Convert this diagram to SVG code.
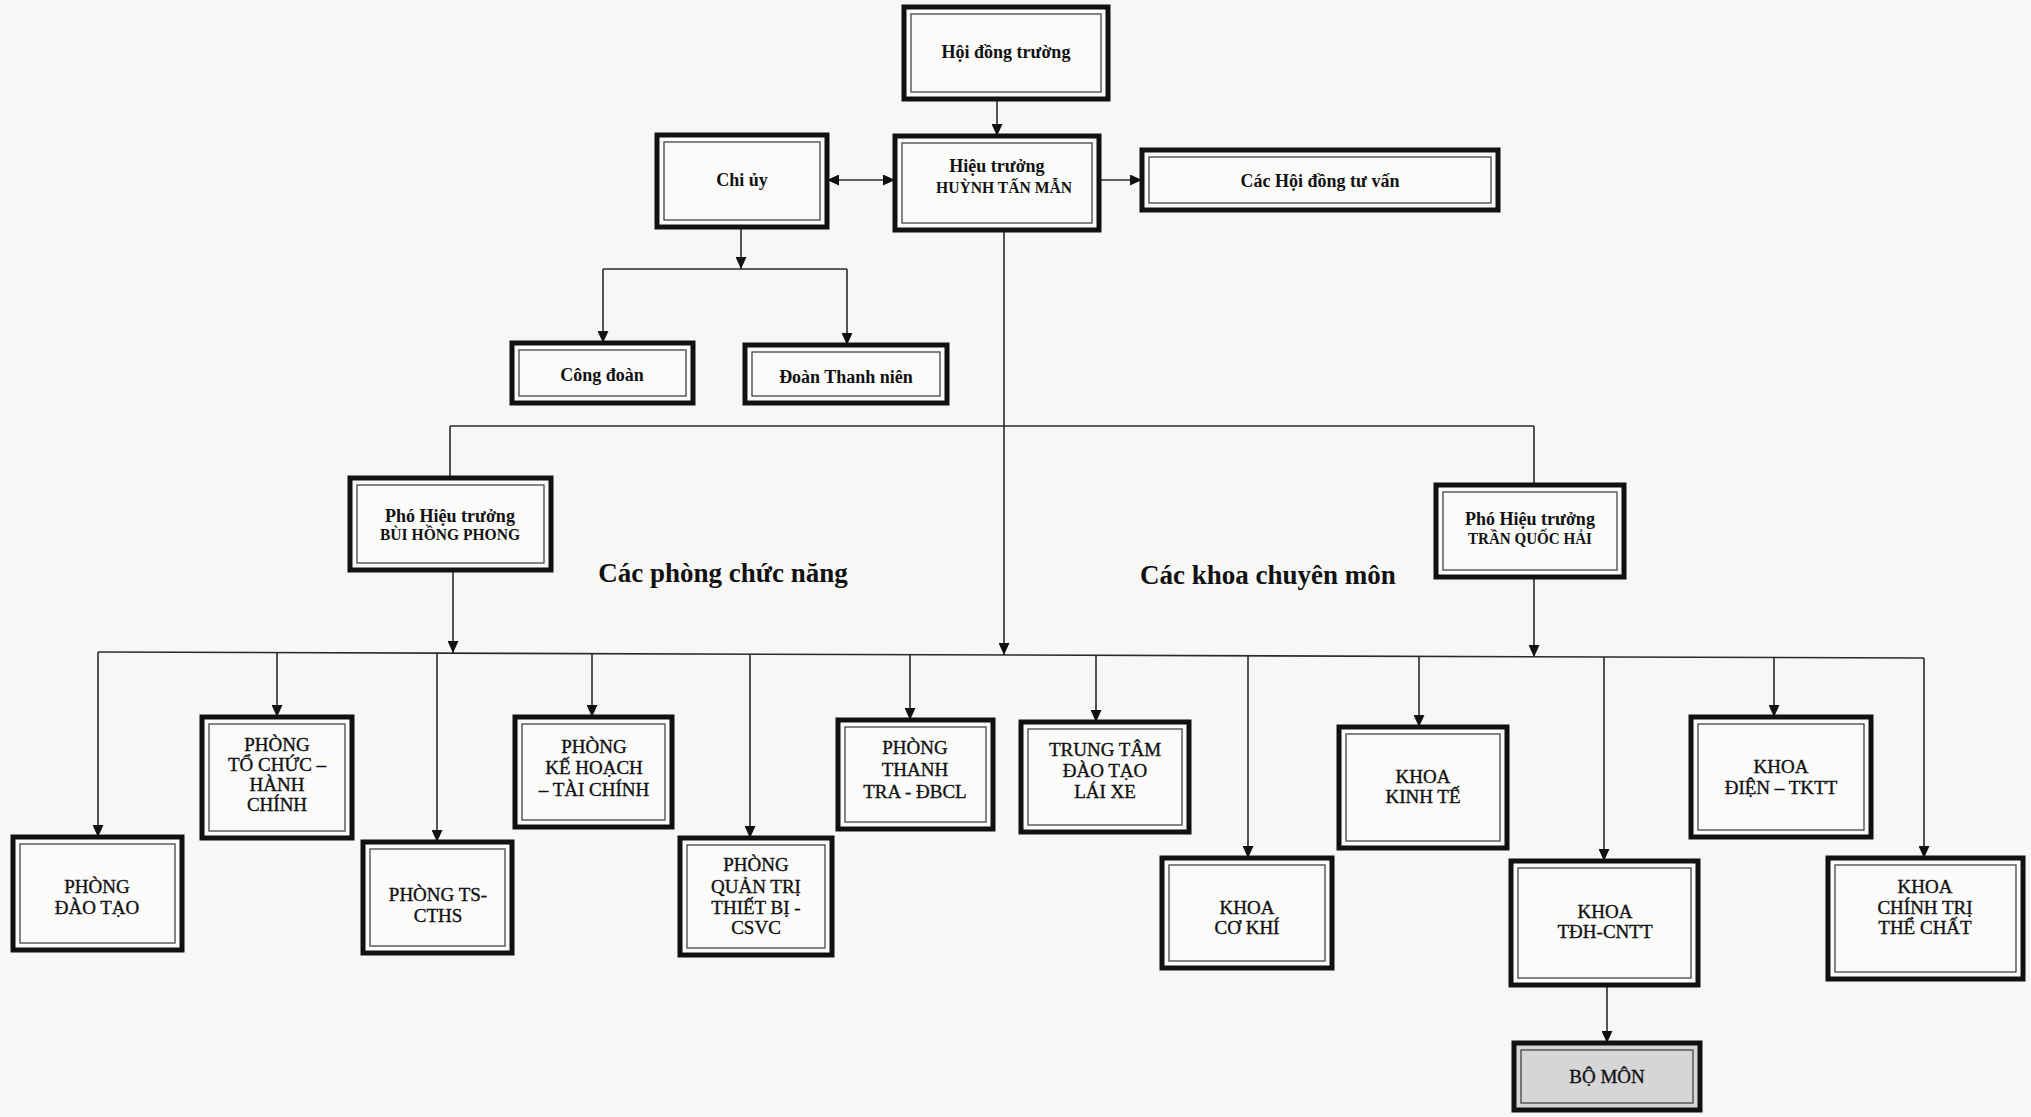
<svg xmlns="http://www.w3.org/2000/svg" width="2031" height="1117" viewBox="0 0 2031 1117">
<defs>
<marker id="arr" markerUnits="userSpaceOnUse" markerWidth="12" markerHeight="11" refX="12" refY="5.5" orient="auto-start-reverse">
<path d="M0,0 L12,5.5 L0,11 z" fill="#111"/>
</marker>
<style>
.bg{fill:#f7f7f5}
.outer{fill:#fbfbfa;stroke:#111;stroke-width:5}
.inner{fill:none;stroke:#444;stroke-width:1.3}
.grey .outer{fill:#d6d6d6}
.conn line,.conn polyline{stroke:#2a2a2a;stroke-width:1.6;fill:none}
.arr{marker-end:url(#arr)}
text{font-family:"Liberation Serif","Times New Roman",serif;fill:#111;text-anchor:middle}
.t{font-size:18px;font-weight:bold}
.n{font-size:17px;font-weight:bold}
.b{font-size:19px;stroke:#111;stroke-width:0.35}
.h{font-size:27px;font-weight:bold}
</style>
</defs>
<rect class="bg" x="0" y="0" width="2031" height="1117"/>

<g id="connectors" class="conn">
<line class="arr" x1="997" y1="99" x2="997" y2="136"/>
<line x1="827" y1="180" x2="895" y2="180" marker-start="url(#arr)" marker-end="url(#arr)"/>
<line class="arr" x1="1099" y1="180" x2="1142" y2="180"/>
<line class="arr" x1="741" y1="227" x2="741" y2="269"/>
<line x1="603" y1="269" x2="847" y2="269"/>
<line class="arr" x1="603" y1="269" x2="603" y2="343"/>
<line class="arr" x1="847" y1="269" x2="847" y2="345"/>
<line class="arr" x1="1004" y1="230" x2="1004" y2="655"/>
<line x1="450" y1="426" x2="1534" y2="426"/>
<line x1="450" y1="426" x2="450" y2="478"/>
<line x1="1534" y1="426" x2="1534" y2="485"/>
<line class="arr" x1="453" y1="570" x2="453" y2="653"/>
<line class="arr" x1="1534" y1="577" x2="1534" y2="657"/>
<line x1="98" y1="652" x2="1924" y2="658"/>
<line class="arr" x1="98" y1="652" x2="98" y2="837"/>
<line class="arr" x1="277" y1="653" x2="277" y2="717"/>
<line class="arr" x1="437" y1="653" x2="437" y2="842"/>
<line class="arr" x1="592" y1="654" x2="592" y2="717"/>
<line class="arr" x1="750" y1="654" x2="750" y2="838"/>
<line class="arr" x1="910" y1="655" x2="910" y2="720"/>
<line class="arr" x1="1096" y1="655" x2="1096" y2="722"/>
<line class="arr" x1="1248" y1="656" x2="1248" y2="858"/>
<line class="arr" x1="1419" y1="656" x2="1419" y2="727"/>
<line class="arr" x1="1604" y1="657" x2="1604" y2="861"/>
<line class="arr" x1="1774" y1="657" x2="1774" y2="717"/>
<line class="arr" x1="1924" y1="658" x2="1924" y2="858"/>
<line class="arr" x1="1607" y1="985" x2="1607" y2="1043"/>
</g>

<g id="hoi_dong_truong"><rect class="outer" x="904" y="7" width="204" height="92"/><rect class="inner" x="911" y="14" width="190" height="78"/><text class="t" x="1006" y="58">Hội đồng trường</text></g>
<g id="hieu_truong"><rect class="outer" x="895" y="136" width="204" height="94"/><rect class="inner" x="902" y="143" width="190" height="80"/><text class="t" x="997" y="172">Hiệu trưởng</text><text class="n" x="1004" y="193" textLength="136" lengthAdjust="spacingAndGlyphs">HUỲNH TẤN MẪN</text></g>
<g id="chi_uy"><rect class="outer" x="657" y="135" width="170" height="92"/><rect class="inner" x="664" y="142" width="156" height="78"/><text class="t" x="742" y="186">Chi ủy</text></g>
<g id="hoi_dong_tu_van"><rect class="outer" x="1142" y="150" width="356" height="60"/><rect class="inner" x="1149" y="157" width="342" height="46"/><text class="t" x="1320" y="187">Các Hội đồng tư vấn</text></g>
<g id="cong_doan"><rect class="outer" x="512" y="343" width="181" height="60"/><rect class="inner" x="519" y="350" width="167" height="46"/><text class="t" x="602" y="381">Công đoàn</text></g>
<g id="doan_thanh_nien"><rect class="outer" x="745" y="345" width="202" height="58"/><rect class="inner" x="752" y="352" width="188" height="44"/><text class="t" x="846" y="383">Đoàn Thanh niên</text></g>
<g id="pho_hieu_truong_1"><rect class="outer" x="350" y="478" width="201" height="92"/><rect class="inner" x="357" y="485" width="187" height="78"/><text class="t" x="450" y="522">Phó Hiệu trưởng</text><text class="n" x="450" y="540" textLength="140" lengthAdjust="spacingAndGlyphs">BÙI HỒNG PHONG</text></g>
<g id="pho_hieu_truong_2"><rect class="outer" x="1436" y="485" width="188" height="92"/><rect class="inner" x="1443" y="492" width="174" height="78"/><text class="t" x="1530" y="525">Phó Hiệu trưởng</text><text class="n" x="1530" y="544" textLength="124" lengthAdjust="spacingAndGlyphs">TRẦN QUỐC HẢI</text></g>

<text class="h" x="723" y="582">Các phòng chức năng</text>
<text class="h" x="1268" y="584">Các khoa chuyên môn</text>

<g id="phong_dao_tao"><rect class="outer" x="13" y="837" width="169" height="113"/><rect class="inner" x="20" y="844" width="155" height="99"/><text class="b" x="97" y="893">PHÒNG</text><text class="b" x="97" y="914">ĐÀO TẠO</text></g>
<g id="phong_to_chuc"><rect class="outer" x="202" y="717" width="150" height="121"/><rect class="inner" x="209" y="724" width="136" height="107"/><text class="b" x="277" y="751">PHÒNG</text><text class="b" x="277" y="771">TỔ CHỨC –</text><text class="b" x="277" y="791">HÀNH</text><text class="b" x="277" y="811">CHÍNH</text></g>
<g id="phong_ts_cths"><rect class="outer" x="363" y="842" width="149" height="111"/><rect class="inner" x="370" y="849" width="135" height="97"/><text class="b" x="438" y="901">PHÒNG TS-</text><text class="b" x="438" y="922">CTHS</text></g>
<g id="phong_ke_hoach"><rect class="outer" x="515" y="717" width="157" height="110"/><rect class="inner" x="522" y="724" width="143" height="96"/><text class="b" x="594" y="753">PHÒNG</text><text class="b" x="594" y="774">KẾ HOẠCH</text><text class="b" x="594" y="796">– TÀI CHÍNH</text></g>
<g id="phong_quan_tri"><rect class="outer" x="680" y="838" width="152" height="117"/><rect class="inner" x="687" y="845" width="138" height="103"/><text class="b" x="756" y="871">PHÒNG</text><text class="b" x="756" y="893">QUẢN TRỊ</text><text class="b" x="756" y="914">THIẾT BỊ -</text><text class="b" x="756" y="934">CSVC</text></g>
<g id="phong_thanh_tra"><rect class="outer" x="838" y="720" width="155" height="109"/><rect class="inner" x="845" y="727" width="141" height="95"/><text class="b" x="915" y="754">PHÒNG</text><text class="b" x="915" y="776">THANH</text><text class="b" x="915" y="798">TRA - ĐBCL</text></g>
<g id="trung_tam_lai_xe"><rect class="outer" x="1021" y="722" width="168" height="110"/><rect class="inner" x="1028" y="729" width="154" height="96"/><text class="b" x="1105" y="756">TRUNG TÂM</text><text class="b" x="1105" y="777">ĐÀO TẠO</text><text class="b" x="1105" y="798">LÁI XE</text></g>
<g id="khoa_co_khi"><rect class="outer" x="1162" y="858" width="170" height="110"/><rect class="inner" x="1169" y="865" width="156" height="96"/><text class="b" x="1247" y="914">KHOA</text><text class="b" x="1247" y="934">CƠ KHÍ</text></g>
<g id="khoa_kinh_te"><rect class="outer" x="1339" y="727" width="168" height="121"/><rect class="inner" x="1346" y="734" width="154" height="107"/><text class="b" x="1423" y="783">KHOA</text><text class="b" x="1423" y="803">KINH TẾ</text></g>
<g id="khoa_tdh_cntt"><rect class="outer" x="1511" y="861" width="187" height="124"/><rect class="inner" x="1518" y="868" width="173" height="110"/><text class="b" x="1605" y="918">KHOA</text><text class="b" x="1605" y="938">TĐH-CNTT</text></g>
<g id="khoa_dien"><rect class="outer" x="1691" y="717" width="180" height="120"/><rect class="inner" x="1698" y="724" width="166" height="106"/><text class="b" x="1781" y="773">KHOA</text><text class="b" x="1781" y="794">ĐIỆN – TKTT</text></g>
<g id="khoa_chinh_tri"><rect class="outer" x="1828" y="858" width="195" height="121"/><rect class="inner" x="1835" y="865" width="181" height="107"/><text class="b" x="1925" y="893">KHOA</text><text class="b" x="1925" y="914">CHÍNH TRỊ</text><text class="b" x="1925" y="934">THỂ CHẤT</text></g>
<g id="bo_mon" class="grey"><rect class="outer" x="1514" y="1043" width="186" height="67"/><rect class="inner" x="1521" y="1050" width="172" height="53"/><text class="b" x="1607" y="1083">BỘ MÔN</text></g>
</svg>
